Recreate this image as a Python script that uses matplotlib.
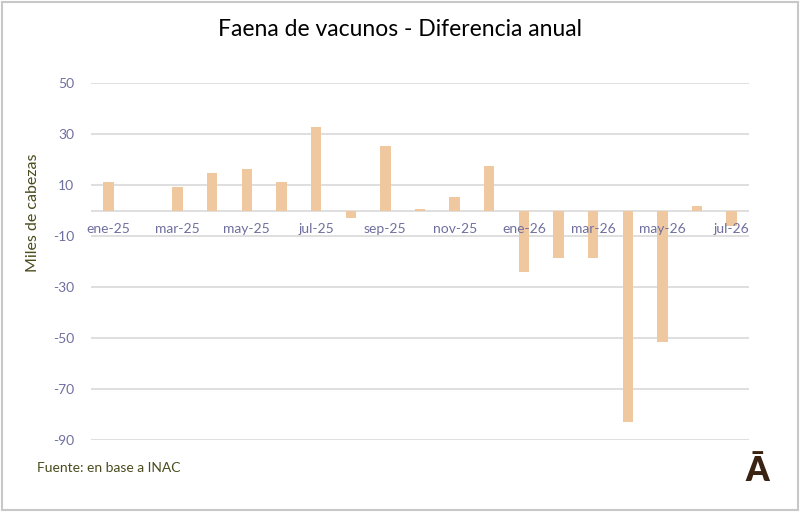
import matplotlib.pyplot as plt
from matplotlib.patches import Rectangle

# Data (miles de cabezas)
months = ['ene-25', 'feb-25', 'mar-25', 'abr-25', 'may-25', 'jun-25', 'jul-25',
          'ago-25', 'sep-25', 'oct-25', 'nov-25', 'dic-25', 'ene-26', 'feb-26',
          'mar-26', 'abr-26', 'may-26', 'jun-26', 'jul-26']
diff = [11.2, 0.0, 9.1, 14.7, 16.3, 11.2, 32.7,
        -3.0, 25.2, 0.5, 5.3, 17.5, -24.3, -18.8,
        -18.8, -82.9, -51.5, 1.7, -6.2]
yticks = [50, 30, 10, -10, -30, -50, -70, -90]

BAR = '#F0C8A0'
GRID = '#D9D9D9'
TICK = '#6F6F9F'
OLIVE = '#4B4B1E'

plt.rcParams['font.family'] = ['Lato', 'DejaVu Sans']

fig = plt.figure(figsize=(8, 5.12), dpi=100)
ax = fig.add_axes([91 / 800, 1 - 440 / 512, 658 / 800, 357 / 512])

x = list(range(len(months)))
ax.bar(x, diff, width=0.3, color=BAR, zorder=3)

ax.set_xlim(-0.5, len(months) - 0.5)
ax.set_ylim(-90, 50)
ax.set_yticks(yticks)
ax.set_yticklabels([str(v) for v in yticks], color=TICK, fontsize=10)
ax.tick_params(axis='y', length=0, pad=12)
ax.set_xticks([])
for s in ax.spines.values():
    s.set_visible(False)
ax.grid(axis='y', color=GRID, linewidth=1.2, zorder=0)
ax.axhline(0, color=GRID, linewidth=1.2, zorder=1)

# month labels just under the zero line, every other month
for i in range(0, len(months), 2):
    ax.annotate(months[i], (i, 0), xytext=(0, -13), textcoords='offset points',
                ha='center', va='center', color=TICK, fontsize=10)

ax.set_ylabel('Miles de cabezas', color=OLIVE, fontsize=11.5)
ax.yaxis.set_label_coords((40 - 91) / 658, (440 - 213) / 357)

fig.text(0.5, 1 - 30 / 512, 'Faena de vacunos - Diferencia anual',
         ha='center', va='center', fontsize=16.5, color='black')
fig.text(37 / 800, 1 - 468 / 512, 'Fuente: en base a INAC',
         ha='left', va='center', fontsize=10, color=OLIVE)
fig.text(757 / 800, 1 - 471 / 512, 'Ā', ha='center', va='center',
         fontsize=24, fontweight='heavy', color='#3B2314')

fig.patches.append(Rectangle((0.002, 0.003), 0.996, 0.994, transform=fig.transFigure,
                             fill=False, edgecolor='#C8C8C8', linewidth=1.5))

fig.savefig('out.png', dpi=100)
